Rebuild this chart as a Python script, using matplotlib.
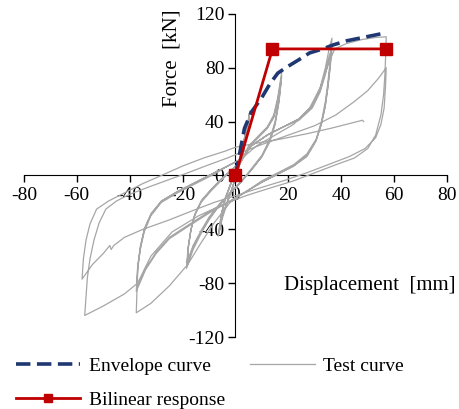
import numpy as np
import matplotlib
matplotlib.use("Agg")
import matplotlib.pyplot as plt

plt.rcParams['font.family'] = ['Liberation Serif', 'DejaVu Serif']
plt.rcParams['axes.unicode_minus'] = False

# envelope of the test (positive side)
env_x = [0, 3.4, 6, 10, 13, 16, 19, 24, 28, 33, 37, 42, 47, 52, 57]
env_y = [0, 35, 47, 58, 68, 76, 80, 86, 91, 94, 97, 100, 102, 104, 106]

# bilinear idealisation
bil_x = [0, 14, 57]
bil_y = [0, 94, 94]

small_x = [0, 1.5, 3, 4.5, 5.5, 4.5, 3, 1, -1, -3, -5, -6.5, -5.5, -4, -2, 0,
           1.5, 3, 4.5, 5.3, 4.3, 2.8, 1, -1, -3, -5, -6.3, -5.3, -3.8, -2, 0,
           1.5, 3, 4.5, 5.2, 4.2, 2.7, 1, -1, -3, -5, -6.2, -5.2, -3.7, -2, 0]
small_y = [0, 12, 25, 38, 48, 32, 18, 5, -8, -20, -32, -45, -30, -18, -8, 2,
           12, 24, 36, 46, 31, 17, 4, -8, -19, -30, -43, -29, -17, -7, 2,
           11, 23, 35, 44, 30, 16, 4, -8, -19, -30, -42, -28, -16, -7, 2]

cyc_b_x = [2, 5, 9, 12, 14.5, 16, 17.5, 16.5, 15, 13, 10, 6, 2, -2, -6, -10, -13, -16, -18.5,
           -18, -17, -15.5, -13, -9, -5, -1,
           2, 5, 9, 12, 14.5, 16, 17.5, 16.5, 15, 13, 10, 6, 2, -2, -6, -10, -13, -16, -18.3,
           -17.8, -16.8, -15.3, -12.8, -9, -5, -1,
           2, 5, 9, 12, 14.5, 16, 17.4, 16.4, 15, 13, 10, 6, 2, -2, -6, -10, -13, -16, -18.2,
           -17.7, -16.7, -15.2, -12.7, -9, -5, -1]
cyc_b_y = [10, 22, 30, 36, 45, 58, 77, 58, 40, 27, 15, 5, -5, -13, -22, -33, -43, -55, -69,
           -55, -42, -30, -20, -11, -3, 5,
           10, 21, 29, 35, 44, 56, 74, 56, 39, 26, 14, 4, -5, -13, -22, -32, -42, -53, -66,
           -53, -40, -29, -19, -10, -2, 5,
           10, 21, 29, 35, 43, 55, 72, 54, 38, 25, 14, 4, -5, -13, -21, -31, -41, -52, -64,
           -51, -39, -28, -18, -10, -2, 5]

cyc_c_x = [2, 6, 12, 18, 24, 29, 32, 34, 35.5, 36.5,
           35.8, 35, 34, 32.5, 30.5, 27, 22, 16, 10, 4, -2, -8, -13, -18, -25, -32, -37.5,
           -37, -36, -34.5, -32, -28, -22, -15, -8, -2,
           2, 6, 12, 18, 24, 29, 32, 34, 35.5, 36.5,
           35.8, 35, 34, 32.5, 30.5, 27, 22, 16, 10, 4, -2, -10, -18, -25, -30, -34, -37.5,
           -37, -36, -34.5, -32, -28, -22, -15, -8, -2,
           2, 6, 12, 18, 24, 29, 32, 34, 35.5, 36.3,
           35.6, 34.8, 33.8, 32.3, 30.3, 27, 22, 16, 10, 4, -2, -10, -18, -25, -30, -34, -37.3,
           -36.8, -35.8, -34.3, -31.8, -28, -22, -15, -8, -2]
cyc_c_y = [10, 22, 30, 36, 42, 52, 65, 80, 95, 102,
           85, 70, 55, 40, 27, 16, 8, 2, -4, -12, -20, -35, -50, -66, -82, -95, -102,
           -70, -55, -42, -30, -20, -13, -6, 1, 8,
           12, 22, 30, 36, 42, 51, 63, 77, 89, 95,
           80, 66, 52, 38, 26, 15, 7, 1, -5, -12, -19, -28, -38, -47, -58, -70, -86,
           -68, -53, -40, -29, -19, -12, -5, 2, 8,
           12, 22, 30, 36, 41, 50, 62, 75, 87, 93,
           78, 64, 50, 37, 25, 14, 7, 1, -5, -12, -19, -27, -37, -46, -57, -69, -84,
           -66, -52, -39, -28, -19, -12, -5, 2, 8]

cyc_d_x = [2, 8, 15, 22, 28, 32, 35, 37.5, 42, 48, 53, 57,
           56.8, 56.5, 56, 55, 53, 50, 45, 38, 30, 22, 12, 4, -4, -14, -24, -32, -37, -42, -50, -57,
           -56.5, -56, -55, -53.5, -51.5, -49, -45, -40, -32, -25, -18, -10, -3,
           2, 10, 20, 30, 38, 45, 50, 54, 57,
           56.7, 56.2, 55, 53, 49, 43, 35, 27, 18, 8, 0, -8, -16, -25, -35, -42, -46, -47,
           -47.5, -50, -54, -58,
           -57.5, -56.5, -55, -52.5, -48, -42, -35, -28, -20, -12, -4, 0, 8, 17, 27, 36, 44, 48, 48.5]
cyc_d_y = [12, 22, 30, 38, 50, 65, 82, 94, 98, 101, 102.5, 103,
           90, 75, 60, 45, 30, 20, 13, 8, 2, -4, -10, -15, -21, -30, -42, -60, -80, -88, -97, -104,
           -90, -76, -62, -48, -35, -25, -19, -14, -8, -3, 2, 8, 13,
           17, 23, 30, 37, 45, 55, 63, 72, 80,
           65, 50, 38, 28, 20, 14, 8, 2, -4, -10, -15, -20, -26, -33, -40, -46, -52, -55,
           -52, -58, -66, -77,
           -62, -48, -36, -25, -19, -13, -6, 0, 7, 13, 18, 21, 24, 27, 31, 35, 39, 41, 40]

test_x = np.concatenate([small_x, cyc_b_x, cyc_c_x, cyc_d_x])
test_y = np.concatenate([small_y, cyc_b_y, cyc_c_y, cyc_d_y])

fig = plt.figure(figsize=(4.59, 4.09), dpi=100)
ax = fig.add_axes([0.052, 0.176, 0.922, 0.79])

ax.plot(test_x, test_y, color='#a6a6a6', lw=0.9, label='Test curve', zorder=2)
ax.plot(env_x, env_y, color='#1f3872', lw=2.6, ls=(0, (4, 1.8)), label='Envelope curve', zorder=3)
ax.plot(bil_x, bil_y, color='#c00000', lw=2, marker='s', ms=8, label='Bilinear response', zorder=4)

ax.set_xlim(-80, 80)
ax.set_ylim(-120, 120)
ax.set_xticks(np.arange(-80, 81, 20))
ax.set_yticks(np.arange(-120, 121, 40))

ax.spines['left'].set_position(('data', 0))
ax.spines['bottom'].set_position(('data', 0))
ax.spines['top'].set_visible(False)
ax.spines['right'].set_visible(False)
ax.spines['left'].set_zorder(1)
ax.spines['bottom'].set_zorder(1)
ax.tick_params(direction='out', length=5, width=1, labelsize=14, pad=3)

ax.set_ylabel('Force  [kN]', fontsize=15)
ax.yaxis.set_label_coords(0.372, 0.864)
ax.set_xlabel('Displacement  [mm]', fontsize=15)
ax.xaxis.set_label_coords(0.818, 0.19)

h, l = ax.get_legend_handles_labels()
order = [1, 2, 0]
fig.legend([h[i] for i in order], [l[i] for i in order], ncol=2, frameon=False,
           loc='upper left', bbox_to_anchor=(0.035, 0.126), fontsize=14,
           handlelength=3.3, handletextpad=0.45, columnspacing=1.3,
           labelspacing=0.85, borderpad=0, borderaxespad=0, markerscale=0.8)

fig.savefig('out.png', dpi=100)
